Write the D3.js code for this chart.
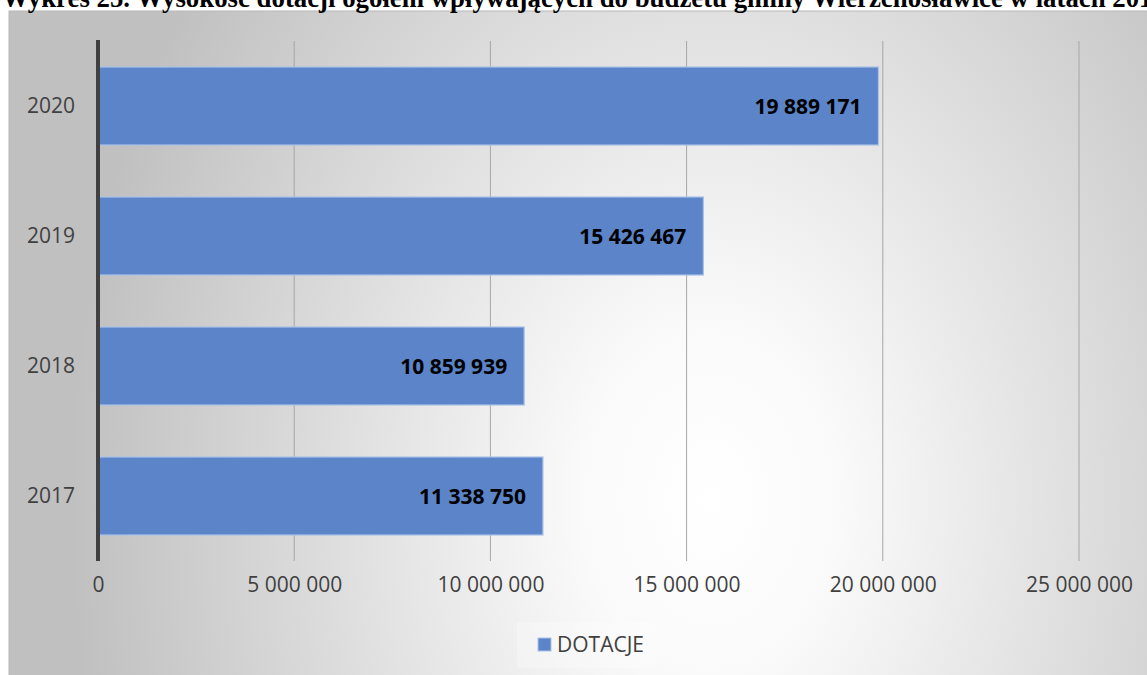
<!DOCTYPE html>
<html><head><meta charset="utf-8">
<script src="https://cdn.jsdelivr.net/npm/d3@7"></script>
<style>html,body{margin:0;padding:0;background:#fff;overflow:hidden}</style>
</head><body>
<svg id="chart" width="1147" height="675"></svg>
<script>
const titleText = "Wykres 25. Wysokość dotacji ogółem wpływających do budżetu gminy Wierzchosławice w latach 2017-2020";
const categories = ["2020", "2019", "2018", "2017"];
const values = [19889171, 15426467, 10859939, 11338750];
const seriesName = "DOTACJE";
const xTicks = [0, 5000000, 10000000, 15000000, 20000000, 25000000];

const svg = d3.select("#chart");
const W = 1147, H = 675;
const fmt = v => d3.format(",")(v).replace(/,/g, " ");

const defs = svg.append("defs");
const grad = defs.append("radialGradient").attr("id", "bg")
  .attr("gradientUnits", "userSpaceOnUse")
  .attr("cx", 0).attr("cy", 0).attr("r", 1)
  .attr("gradientTransform", "translate(710,500) scale(640,880)");
grad.append("stop").attr("offset", 0).attr("stop-color", "#ffffff");
grad.append("stop").attr("offset", 0.2).attr("stop-color", "#fafafa");
grad.append("stop").attr("offset", 1).attr("stop-color", "#c0c0c0");

// chart area
svg.append("rect").attr("x", 9).attr("y", 11).attr("width", W).attr("height", H)
  .attr("fill", "url(#bg)").attr("stroke", "#b8b8b8").attr("stroke-width", 1);

// title (clipped at top, as in the source page)
svg.append("text").attr("x", 2).attr("y", 7)
  .attr("font-family", "'Liberation Serif', 'Times New Roman', serif")
  .attr("font-weight", "bold").attr("font-size", 26.8).attr("fill", "#000")
  .text(titleText);

const x = d3.scaleLinear().domain([0, 25000000]).range([98, 1079]);
const y = d3.scaleBand().domain(categories).range([41, 561]).paddingInner(0.4).paddingOuter(0.2);

const font = "'Open Sans', Lato, sans-serif";

// gridlines
svg.append("g").selectAll("line").data(xTicks.slice(1)).join("line")
  .attr("x1", d => x(d)).attr("x2", d => x(d)).attr("y1", 41).attr("y2", 561)
  .attr("stroke", "#a6a6a6").attr("stroke-width", 1);

// x axis labels
const xAxis = d3.axisBottom(x).tickValues(xTicks).tickSize(0).tickPadding(0).tickFormat(fmt);
const gx = svg.append("g").attr("transform", "translate(0,577)").call(xAxis);
gx.select(".domain").remove();
gx.selectAll("text").attr("font-family", font).attr("font-size", 21).attr("fill", "#404040")
  .attr("dy", "0.71em");

// y axis labels
const yAxis = d3.axisLeft(y).tickSize(0).tickPadding(0);
const gy = svg.append("g").attr("transform", "translate(75,0)").call(yAxis);
gy.select(".domain").remove();
gy.selectAll("text").attr("font-family", font).attr("font-size", 21).attr("fill", "#404040");

// bars
svg.append("g").selectAll("rect").data(categories).join("rect")
  .attr("x", x(0)).attr("y", (d) => y(d))
  .attr("width", (d, i) => x(values[i]) - x(0)).attr("height", y.bandwidth())
  .attr("fill", "#5b84c9").attr("stroke", "#a9c2e8").attr("stroke-width", 1.2);

// value labels
svg.append("g").selectAll("text").data(categories).join("text")
  .attr("x", (d, i) => x(values[i]) - 17).attr("y", d => y(d) + y.bandwidth() / 2)
  .attr("dy", "0.36em").attr("text-anchor", "end")
  .attr("font-family", font).attr("font-weight", "bold").attr("font-size", 21).attr("fill", "#000")
  .text((d, i) => fmt(values[i]));

// left axis line
svg.append("line").attr("x1", 98).attr("x2", 98).attr("y1", 40).attr("y2", 561)
  .attr("stroke", "#404040").attr("stroke-width", 4);

// legend
const lg = svg.append("g");
lg.append("rect").attr("x", 517).attr("y", 622).attr("width", 138).attr("height", 46)
  .attr("fill", "#ffffff").attr("opacity", 0.25);
lg.append("rect").attr("x", 538).attr("y", 638).attr("width", 13).attr("height", 13)
  .attr("fill", "#5b84c9").attr("stroke", "#a9c2e8").attr("stroke-width", 1);
lg.append("text").attr("x", 557).attr("y", 644.5).attr("dy", "0.36em")
  .attr("font-family", font).attr("font-size", 21).attr("fill", "#404040").text(seriesName);
</script>
</body></html>
